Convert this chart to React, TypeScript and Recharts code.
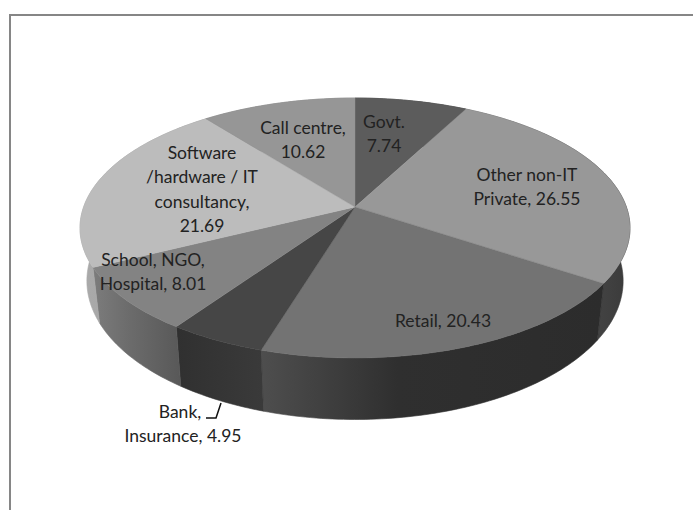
import React from 'react';
import { PieChart, Pie } from 'recharts';

const categories = ['Govt.', 'Other non-IT Private', 'Retail', 'Bank, Insurance', 'School, NGO, Hospital', 'Software /hardware / IT consultancy', 'Call centre'];
const shares = [7.74, 26.55, 20.43, 4.95, 8.01, 21.69, 10.62];
const labelRows = [
  ['Govt.', '7.74'],
  ['Other non-IT', 'Private, 26.55'],
  ['Retail, 20.43'],
  ['Bank,', 'Insurance, 4.95'],
  ['School, NGO,', 'Hospital, 8.01'],
  ['Software', '/hardware / IT', 'consultancy,', '21.69'],
  ['Call centre,', '10.62'],
];

const topColors = ['#5c5c5c', '#989898', '#737373', '#464646', '#838383', '#bcbcbc', '#969696'];
// wall gradient: left, 40% and right colour
const wallColors = [
  ['#3a3a3a', '#3a3a3a', '#3a3a3a'],
  ['#686868', '#565656', '#3a3a3a'],
  ['#4e4e4e', '#2f2f2f', '#2c2c2c'],
  ['#303030', '#343434', '#3a3a3a'],
  ['#7c7c7c', '#6c6c6c', '#585858'],
  ['#aaaaaa', '#a4a4a4', '#9a9a9a'],
  ['#808080', '#808080', '#808080'],
];
// label anchor (screen px, relative to the pie centre) and first baseline
const labelSpots = [
  [29, -79], [172, -26], [88, 120], [-172, 211], [-202, 59], [-153, -48], [-52, -73],
];
const bankRowShift = -3;

const data = categories.map((name, i) => ({ name, value: shares[i] }));

const CX = 355;
const CY = 207;
const R = 271.4;
const SQUASH = 126.6 / R;
const TILT = 0.1615;
const WALL_SCALE = 0.975;
const WALL_RY = 135;
const WALL_DROP = 51.5;

const rad = (a: number) => ((90 - a) * Math.PI) / 180;

// top rim of the disc, seen in perspective
const topPoint = (cx: number, cy: number, r: number, angle: number) => {
  const u = Math.sin(rad(angle));
  const v = -Math.cos(rad(angle));
  const w = 1 - TILT * v;
  return [cx + (r * u) / w, cy + (r * SQUASH * v) / w];
};

const bottomPoint = (cx: number, cy: number, r: number, angle: number) => {
  const u = Math.sin(rad(angle));
  const v = -Math.cos(rad(angle));
  const w = 1 - TILT * v;
  return [cx + (WALL_SCALE * r * u) / w, cy + WALL_DROP + (WALL_RY * v) / w];
};

const sweep = (start: number, end: number) => {
  const steps = Math.max(2, Math.ceil(Math.abs(end - start)));
  const out: number[] = [];
  for (let i = 0; i <= steps; i++) out.push(start + ((end - start) * i) / steps);
  return out;
};

const toPath = (pts: number[][]) => 'M' + pts.map((p) => `${p[0].toFixed(2)},${p[1].toFixed(2)}`).join('L') + 'Z';

const TopSlice = (props: any) => {
  const { cx, cy, outerRadius, startAngle, endAngle, index } = props;
  const pts = [[cx, cy], ...sweep(startAngle, endAngle).map((a) => topPoint(cx, cy, outerRadius, a))];
  return <path d={toPath(pts)} fill={topColors[index]} stroke={topColors[index]} strokeWidth={0.4} />;
};

const WallSlice = (props: any) => {
  const { cx, cy, outerRadius, startAngle, endAngle, index } = props;
  const angles = sweep(startAngle, endAngle);
  const pts = [
    ...angles.map((a) => topPoint(cx, cy, outerRadius, a)),
    ...angles.slice().reverse().map((a) => bottomPoint(cx, cy, outerRadius, a)),
  ];
  return <path d={toPath(pts)} fill={`url(#wall${index})`} stroke={`url(#wall${index})`} strokeWidth={0.6} />;
};

const SliceLabel = (props: any) => {
  const { cx, cy, index } = props;
  const [dx, dy] = labelSpots[index];
  const isBank = index === 3;
  return (
    <g>
      <text y={cy + dy} textAnchor="middle" fontFamily="Lato" fontSize={17.5} fill="#222222">
        {labelRows[index].map((row, i) => (
          <tspan key={row} x={cx + dx + (isBank && i === 0 ? bankRowShift : 0)} dy={i === 0 ? 0 : 24.4}>
            {row}
          </tspan>
        ))}
      </text>
      {isBank && <path d={`M${cx - 149},${cy + 211}H${cx - 139}L${cx - 134},${cy + 196}`} fill="none" stroke="#111111" strokeWidth={1.5} />}
    </g>
  );
};

export default function App() {
  return (
    <div style={{ position: 'absolute', left: 0, top: 0, width: 693, height: 510, background: '#ffffff', overflow: 'hidden' }}>
      <div style={{ position: 'absolute', left: 9, top: 14, width: 800, height: 600, border: '2px solid #868686' }} />
      <div style={{ position: 'absolute', left: 0, top: 0 }}>
        <PieChart width={693} height={510} margin={{ top: 0, right: 0, bottom: 0, left: 0 }}>
          <defs>
            {wallColors.map((c, i) => (
              <linearGradient key={i} id={`wall${i}`} gradientUnits="objectBoundingBox" x1="0" y1="0" x2="1" y2="0">
                <stop offset="0%" stopColor={c[0]} />
                <stop offset="40%" stopColor={c[1]} />
                <stop offset="100%" stopColor={c[2]} />
              </linearGradient>
            ))}
          </defs>
          <Pie
            data={data}
            dataKey="value"
            nameKey="name"
            cx={CX}
            cy={CY}
            outerRadius={R}
            startAngle={90}
            endAngle={-270}
            stroke="none"
            shape={WallSlice}
            isAnimationActive={false}
          />
          <Pie
            data={data}
            dataKey="value"
            nameKey="name"
            cx={CX}
            cy={CY}
            outerRadius={R}
            startAngle={90}
            endAngle={-270}
            stroke="none"
            shape={TopSlice}
            label={SliceLabel}
            labelLine={false}
            isAnimationActive={false}
          />
        </PieChart>
      </div>
    </div>
  );
}
